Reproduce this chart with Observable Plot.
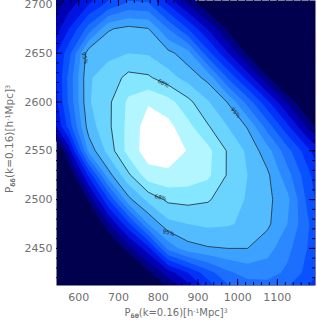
<!DOCTYPE html>
<html><head><meta charset="utf-8">
<script src="https://cdn.jsdelivr.net/npm/d3@7"></script>
<script src="https://cdn.jsdelivr.net/npm/@observablehq/plot@0.6"></script>
<style>html,body{margin:0;padding:0;background:#fff;overflow:hidden}</style>
</head><body><div id="chart"></div>
<script>
// ---- data ----
const xTicks = [600, 700, 800, 900, 1000, 1100];
const yTicks = [2450, 2500, 2550, 2600, 2650, 2700];
const xDomain = [544, 1196];
const yDomain = [2412, 2704];

// grid node centres (data units)
const gridXs = [525, 575, 625, 675, 725, 775, 825, 875, 925, 975, 1025, 1075, 1125, 1175, 1225];
const gridYs = [2725, 2700, 2675, 2650, 2625, 2600, 2575, 2550, 2525, 2500, 2475, 2450, 2425, 2400];

// estimated contour level at each node (rows top -> bottom)
const row0  = [0, 1.2, 2.5, 3.6, 4.3, 4.0, 2.0, 0, -2, -4, -5, -6, -6, -6, -6];
const row1  = [1.2, 2.5, 4.0, 5.3, 6.3, 6.2, 4.0, 2.0, 0.2, -1.8, -3.5, -5, -6, -6, -6];
const row2  = [1.7, 4.0, 6.4, 8.9, 9.3, 9.05, 7.0, 5.0, 2.9, 0.8, -1.2, -3, -4.5, -6, -6];
const row3  = [3.0, 5.6, 9.6, 9.8, 10.0, 9.9, 9.3, 8.4, 5.4, 3.1, 0.8, -1.5, -3.5, -5, -6];
const row4  = [2.6, 6.3, 9.9, 10.4, 11.3, 11.15, 10.4, 9.6, 8.7, 5.9, 3.6, 1.2, -1.2, -3.4, -5];
const row5  = [2.4, 6.2, 9.9, 10.8, 12.2, 12.9, 12.4, 11.3, 10.1, 8.95, 6.6, 4.25, 1.9, -0.4, -2.7];
const row6  = [1.6, 5.4, 9.5, 10.8, 12.3, 13.5, 13.3, 12.3, 11.1, 10.0, 8.9, 6.55, 4.25, 1.9, -0.4];
const row7  = [-2.8, 2.4, 8.3, 10.4, 12.4, 13.5, 13.5, 12.95, 12.3, 10.9, 9.8, 8.4, 6.4, 4.4, 2.4];
const row8  = [-4.6, -0.15, 4.2, 8.6, 10.8, 12.6, 12.8, 12.6, 12.2, 10.9, 10.0, 9.2, 7.4, 5.4, 3.4];
const row9  = [-6, -2.5, 1.2, 5.0, 8.7, 10.3, 11.2, 11.3, 11.1, 10.5, 9.9, 9.25, 8.3, 5.8, 3.8];
const row10 = [-6, -5, -1.0, 1.9, 4.7, 8.0, 9.7, 10.0, 10.2, 10.1, 9.8, 9.2, 8.0, 6.2, 4.5];
const row11 = [-6, -6, -4, -0.6, 1.5, 3.6, 7.3, 8.6, 8.9, 9.0, 9.0, 8.4, 7.3, 6.0, 4.7];
const row12 = [-6, -6, -6, -4, -1.5, 0.8, 2.5, 4.0, 5.6, 6.8, 7.4, 7.4, 6.8, 5.7, 4.5];
const row13 = [-6, -6, -6, -6, -4, -2, 0, 1.5, 3.5, 5.0, 5.8, 6.0, 5.5, 4.5, 3.5];

const bandLevels = [1, 2, 3, 4, 5, 6, 7, 8, 9, 10, 11, 12, 13];
const bandColors = ["#000082", "#0000b4", "#0014e0", "#0032fa", "#0a52ff", "#1c6eff", "#2c88ff",
                    "#3ca2ff", "#52bcff", "#6ad4ff", "#84e6ff", "#b4f6ff", "#ffffff"];
const backgroundColor = "#00004e";

const lineLevels = [9, 11];           // 95% and 68% contours

const labelText  = ["95%", "95%", "95%", "68%", "68%"];
const labelX     = [615, 995, 826, 813, 806];
const labelY     = [2645, 2589, 2466, 2619, 2502];
const labelAngle = [78, 50, 15, 28, 12];

// ---- chart ----
const rows = [row0, row1, row2, row3, row4, row5, row6, row7, row8, row9, row10, row11, row12, row13];
const values = rows.flat();
const nx = gridXs.length, ny = gridYs.length;
const dx = gridXs[1] - gridXs[0], dy = gridYs[0] - gridYs[1];
const gridBox = {x1: gridXs[0] - dx / 2, x2: gridXs[nx - 1] + dx / 2, y1: gridYs[0] + dy / 2, y2: gridYs[ny - 1] - dy / 2};
const labels = labelText.map((t, i) => ({t, x: labelX[i], y: labelY[i], a: labelAngle[i]}));

const W = 317, H = 321, mL = 56, mR = 2, mT = 0, mB = 36;
const frameW = W - mL - mR, frameH = H - mT - mB;
const xMinor = d3.range(560, 1196, 20);
const yMinor = d3.range(2420, 2704, 10);
const tickColor = "#000030";
const textColor = "#707070";

const svg = Plot.plot({
  width: W, height: H,
  marginLeft: mL, marginRight: mR, marginTop: mT, marginBottom: mB,
  style: {fontFamily: "DejaVu Sans", fontSize: "11px", color: textColor, background: "#fff", overflow: "visible"},
  x: {domain: xDomain},
  y: {domain: yDomain},
  color: {type: "ordinal", domain: bandLevels, range: bandColors},
  marks: [
    Plot.frame({fill: backgroundColor, stroke: null}),
    Plot.contour(values, {width: nx, height: ny, ...gridBox, fill: Plot.identity, thresholds: bandLevels, stroke: "none", clip: true}),
    Plot.contour(values, {width: nx, height: ny, ...gridBox, value: Plot.identity, thresholds: lineLevels, fill: "none", stroke: "#2a3a44", strokeWidth: 0.9, clip: true}),
    Plot.text(labels, {x: "x", y: "y", text: "t", rotate: "a", fontSize: 5.5, fill: "#1a2a33", fontFamily: "DejaVu Sans"}),
    Plot.tickX(xMinor, {x: d => d, insetTop: frameH - 3, stroke: tickColor}),
    Plot.tickX(xMinor, {x: d => d, insetBottom: frameH - 3, stroke: tickColor}),
    Plot.tickX(xTicks, {x: d => d, insetTop: frameH - 6, stroke: tickColor}),
    Plot.tickX(xTicks, {x: d => d, insetBottom: frameH - 6, stroke: tickColor}),
    Plot.tickY(yMinor, {y: d => d, insetRight: frameW - 3, stroke: tickColor}),
    Plot.tickY(yMinor, {y: d => d, insetLeft: frameW - 3, stroke: tickColor}),
    Plot.tickY(yTicks, {y: d => d, insetRight: frameW - 6, stroke: tickColor}),
    Plot.tickY(yTicks, {y: d => d, insetLeft: frameW - 6, stroke: tickColor}),
    Plot.axisX(xTicks, {tickSize: 0, tickPadding: 8, label: null, fontSize: 11, tickFormat: d3.format("d")}),
    Plot.axisY(yTicks, {tickSize: 0, tickPadding: 4, label: null, fontSize: 11, tickFormat: d3.format("d")})
  ]
});

// axis titles with sub/superscripts
function richLabel(sel, parts) {
  parts.forEach(p => {
    const ts = sel.append("tspan").text(p.t);
    if (p.sub) ts.attr("font-size", "0.6em").attr("dy", "0.3em").attr("font-weight", "bold");
    else if (p.sup) ts.attr("font-size", "0.6em").attr("dy", "-0.55em");
    else if (p.back) ts.attr("dy", p.back);
  });
}
const s = d3.select(svg);
const xl = s.append("text").attr("x", 176).attr("y", 316).attr("text-anchor", "middle")
  .attr("fill", textColor).attr("font-size", 10);
richLabel(xl, [{t: "P"}, {t: "δθ", sub: true}, {t: "(k=0.16)[h", back: "-0.18em"}, {t: "-1", sup: true},
               {t: "Mpc]", back: "0.33em"}, {t: "3", sup: true}]);
const yl = s.append("text").attr("transform", "translate(13,139) rotate(-90)").attr("text-anchor", "middle")
  .attr("fill", textColor).attr("font-size", 10.5);
richLabel(yl, [{t: "P"}, {t: "δδ", sub: true}, {t: "(k=0.16)[h", back: "-0.18em"}, {t: "-1", sup: true},
               {t: "Mpc]", back: "0.33em"}, {t: "3", sup: true}]);

document.getElementById("chart").appendChild(svg);
</script>
</body></html>
